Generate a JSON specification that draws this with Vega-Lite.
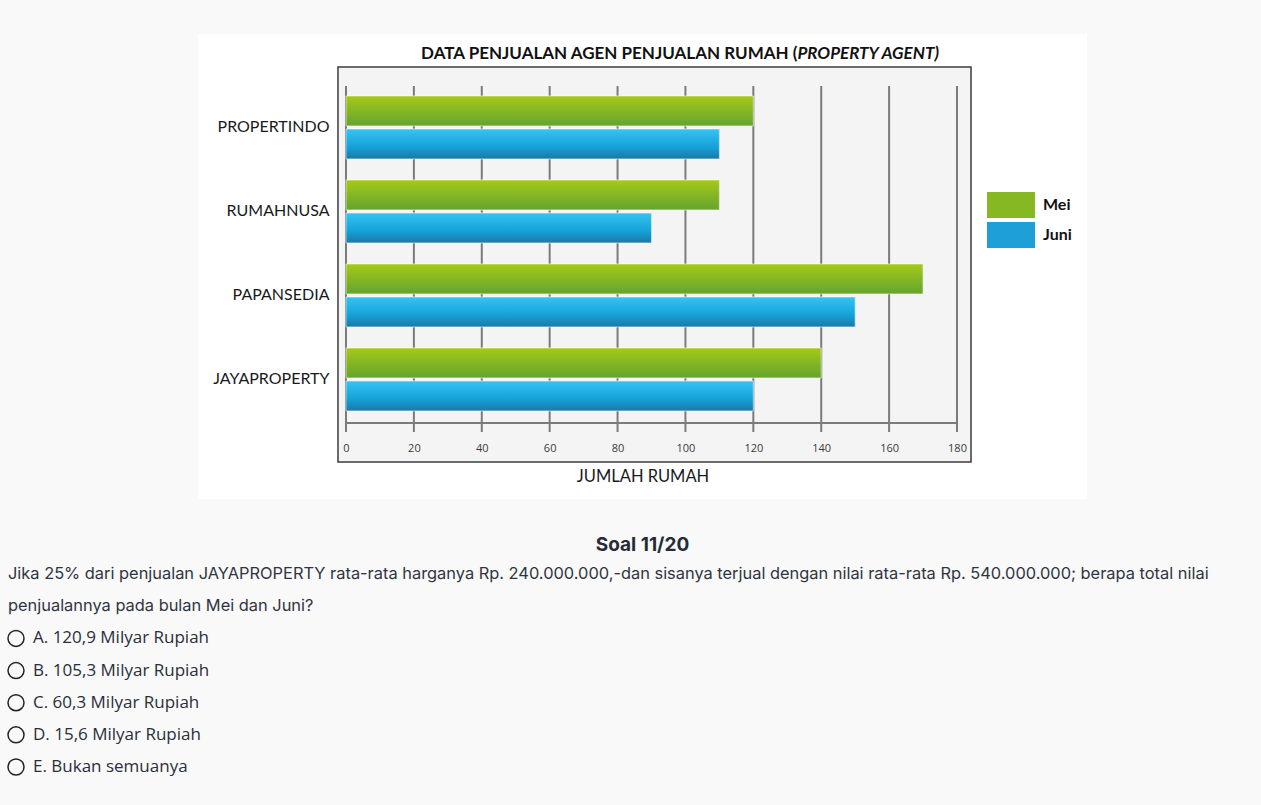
{
  "$schema": "https://vega.github.io/schema/vega-lite/v6.json",
  "background": "#f9f9f9",
  "padding": {"left": 5, "top": 34, "right": 5, "bottom": 27},
  "autosize": {"type": "pad"},
  "bounds": "flush",
  "spacing": 46,
  "config": {"view": {"stroke": null}, "font": "Lato"},
  "datasets": {
    "sales": [
      {"agent": "PROPERTINDO", "month": "Mei", "value": 120},
      {"agent": "PROPERTINDO", "month": "Juni", "value": 110},
      {"agent": "RUMAHNUSA", "month": "Mei", "value": 110},
      {"agent": "RUMAHNUSA", "month": "Juni", "value": 90},
      {"agent": "PAPANSEDIA", "month": "Mei", "value": 170},
      {"agent": "PAPANSEDIA", "month": "Juni", "value": 150},
      {"agent": "JAYAPROPERTY", "month": "Mei", "value": 140},
      {"agent": "JAYAPROPERTY", "month": "Juni", "value": 120}
    ],
    "ticks": [{"t": 0}, {"t": 20}, {"t": 40}, {"t": 60}, {"t": 80}, {"t": 100}, {"t": 120}, {"t": 140}, {"t": 160}, {"t": 180}],
    "quiz": [
      {"k": 0, "kind": "head", "t": "Soal 11/20"},
      {"k": 1, "kind": "q", "t": "Jika 25% dari penjualan JAYAPROPERTY rata-rata harganya Rp. 240.000.000,-dan sisanya terjual dengan nilai rata-rata Rp. 540.000.000; berapa total nilai"},
      {"k": 2, "kind": "q", "t": "penjualannya pada bulan Mei dan Juni?"},
      {"k": 3, "kind": "opt", "t": "A. 120,9 Milyar Rupiah"},
      {"k": 4, "kind": "opt", "t": "B. 105,3 Milyar Rupiah"},
      {"k": 5, "kind": "opt", "t": "C. 60,3 Milyar Rupiah"},
      {"k": 6, "kind": "opt", "t": "D. 15,6 Milyar Rupiah"},
      {"k": 7, "kind": "opt", "t": "E. Bukan semuanya"}
    ]
  },
  "vconcat": [
    {
      "width": 889,
      "height": 465,
      "view": {"fill": "white", "stroke": null},
      "layer": [
        {
          "data": {"values": [{"part": "frame"}]},
          "mark": {"type": "rect", "fill": "#f4f4f4", "stroke": "#3c3c3c", "strokeWidth": 1.5},
          "encoding": {
            "x": {"datum": -2.36, "type": "quantitative", "scale": {"domain": [-43.6, 218.3], "nice": false, "zero": false}},
            "x2": {"datum": 184.13},
            "y": {"datum": 105.64, "type": "quantitative", "scale": {"domain": [-22.55, 115.43], "nice": false, "zero": false}, "axis": null},
            "y2": {"datum": -11.57}
          }
        },
        {
          "data": {"name": "ticks"},
          "mark": {"type": "rule", "color": "#7b7b7b", "strokeWidth": 2},
          "encoding": {
            "x": {"field": "t", "type": "quantitative", "scale": {"domain": [-43.6, 218.3], "nice": false, "zero": false}},
            "y": {"datum": 100, "type": "quantitative", "scale": {"domain": [-22.55, 115.43], "nice": false, "zero": false}, "axis": null},
            "y2": {"datum": -2.67}
          }
        },
        {
          "data": {"values": [{"part": "baseline"}]},
          "mark": {"type": "rule", "color": "#7b7b7b", "strokeWidth": 2},
          "encoding": {
            "x": {"datum": 0, "type": "quantitative", "scale": {"domain": [-43.6, 218.3], "nice": false, "zero": false}},
            "x2": {"datum": 180},
            "y": {"datum": 0, "type": "quantitative", "scale": {"domain": [-22.55, 115.43], "nice": false, "zero": false}, "axis": null}
          }
        },
        {
          "data": {"name": "sales"},
          "mark": {"type": "bar"},
          "encoding": {
            "y": {
              "field": "agent", "type": "nominal",
              "sort": ["PROPERTINDO", "RUMAHNUSA", "PAPANSEDIA", "JAYAPROPERTY"],
              "scale": {"paddingInner": 0.25, "paddingOuter": 0.893, "align": 0.413},
              "axis": {"orient": "left", "offset": -136, "zindex": 1, "domain": false, "ticks": false, "grid": false, "title": null, "labelFont": "Lato", "labelFontSize": 16, "labelColor": "#1a1a1a", "labelPadding": 5}
            },
            "yOffset": {"field": "month", "type": "nominal", "sort": ["Mei", "Juni"], "scale": {"paddingInner": 0.09}},
            "x": {
              "field": "value", "type": "quantitative", "stack": null,
              "scale": {"domain": [-43.6, 218.3], "nice": false, "zero": false},
              "axis": {"orient": "bottom", "offset": -76, "zindex": 1, "values": [0, 20, 40, 60, 80, 100, 120, 140, 160, 180], "domain": false, "ticks": false, "grid": false, "labelFont": "Open Sans", "labelFontSize": 11, "labelColor": "#3a3a3a", "labelPadding": 19, "title": "JUMLAH RUMAH", "titleFont": "Lato", "titleFontSize": 16.5, "titleFontWeight": "normal", "titleColor": "#1a1a1a", "titlePadding": 15}
            },
            "color": {
              "field": "month", "type": "nominal", "sort": ["Mei", "Juni"],
              "scale": {"domain": ["Mei", "Juni"], "range": ["#86b823", "#1ea0d6"]},
              "legend": {
                "orient": "none", "legendX": 800, "legendY": 158, "title": null,
                "symbolType": "M-1.846,-1H1.846V1H-1.846Z", "symbolSize": 676, "symbolStrokeWidth": 0, "symbolOpacity": 1,
                "labelFont": "Lato", "labelFontSize": 16, "labelFontWeight": "bold", "labelColor": "#111111", "labelOffset": 19, "rowPadding": 4, "padding": 0
              }
            }
          }
        },
        {
          "data": {"name": "sales"},
          "mark": {"type": "bar", "stroke": "white", "strokeWidth": 1, "strokeOpacity": 0.6},
          "encoding": {
            "y": {
              "field": "agent", "type": "nominal",
              "sort": ["PROPERTINDO", "RUMAHNUSA", "PAPANSEDIA", "JAYAPROPERTY"],
              "scale": {"paddingInner": 0.25, "paddingOuter": 0.893, "align": 0.413},
              "axis": null
            },
            "yOffset": {"field": "month", "type": "nominal", "sort": ["Mei", "Juni"], "scale": {"paddingInner": 0.09}},
            "x": {"field": "value", "type": "quantitative", "stack": null, "scale": {"domain": [-43.6, 218.3], "nice": false, "zero": false}},
            "fill": {
              "condition": {"test": "datum.month === 'Mei'", "value": {"gradient": "linear", "x1": 0, "y1": 0, "x2": 0, "y2": 1, "stops": [{"offset": 0, "color": "#a5c91a"}, {"offset": 1, "color": "#64a42d"}]}},
              "value": {"gradient": "linear", "x1": 0, "y1": 0, "x2": 0, "y2": 1, "stops": [{"offset": 0, "color": "#35c4f3"}, {"offset": 0.6, "color": "#15a2d8"}, {"offset": 1, "color": "#1b78a6"}]}
            }
          }
        },
        {
          "data": {"values": [{"part": "title"}]},
          "mark": {"type": "text", "text": "DATA PENJUALAN AGEN PENJUALAN RUMAH (", "align": "right", "baseline": "middle", "font": "Lato", "fontSize": 17, "fontWeight": "bold", "color": "#111111"},
          "encoding": {
            "x": {"datum": 133.0, "type": "quantitative", "scale": {"domain": [-43.6, 218.3], "nice": false, "zero": false}},
            "y": {"datum": 109.5, "type": "quantitative", "scale": {"domain": [-22.55, 115.43], "nice": false, "zero": false}, "axis": null}
          }
        },
        {
          "data": {"values": [{"part": "title"}]},
          "mark": {"type": "text", "text": "PROPERTY AGENT)", "align": "left", "baseline": "middle", "font": "Lato", "fontSize": 17, "fontWeight": "bold", "fontStyle": "italic", "color": "#111111"},
          "encoding": {
            "x": {"datum": 133.0, "type": "quantitative", "scale": {"domain": [-43.6, 218.3], "nice": false, "zero": false}},
            "y": {"datum": 109.5, "type": "quantitative", "scale": {"domain": [-22.55, 115.43], "nice": false, "zero": false}, "axis": null}
          }
        }
      ],
      "resolve": {"scale": {"y": "independent"}}
    },
    {
      "width": 1058,
      "height": 225,
      "data": {"name": "quiz"},
      "encoding": {"y": {"field": "k", "type": "ordinal", "scale": {"type": "point", "padding": 0}, "axis": null}},
      "layer": [
        {
          "transform": [{"filter": "datum.kind === 'head'"}],
          "mark": {"type": "text", "align": "center", "baseline": "middle", "font": "Inter", "fontSize": 19, "fontWeight": "bold", "color": "#262b38"},
          "encoding": {"x": {"value": 444.5}, "text": {"field": "t"}}
        },
        {
          "transform": [{"filter": "datum.kind === 'q'"}],
          "mark": {"type": "text", "align": "left", "baseline": "middle", "dy": -3, "font": "Inter", "fontSize": 16.4, "color": "#30343f"},
          "encoding": {"x": {"value": -190}, "text": {"field": "t"}}
        },
        {
          "transform": [{"filter": "datum.kind === 'opt'"}],
          "mark": {"type": "point", "shape": "circle", "filled": false, "size": 256, "stroke": "#222222", "strokeWidth": 1.5, "opacity": 1, "yOffset": -3},
          "encoding": {"x": {"value": -182}}
        },
        {
          "transform": [{"filter": "datum.kind === 'opt'"}],
          "mark": {"type": "text", "align": "left", "baseline": "middle", "dy": -3, "font": "Open Sans", "fontSize": 17, "color": "#2a2e3a"},
          "encoding": {"x": {"value": -165}, "text": {"field": "t"}}
        }
      ]
    }
  ]
}
